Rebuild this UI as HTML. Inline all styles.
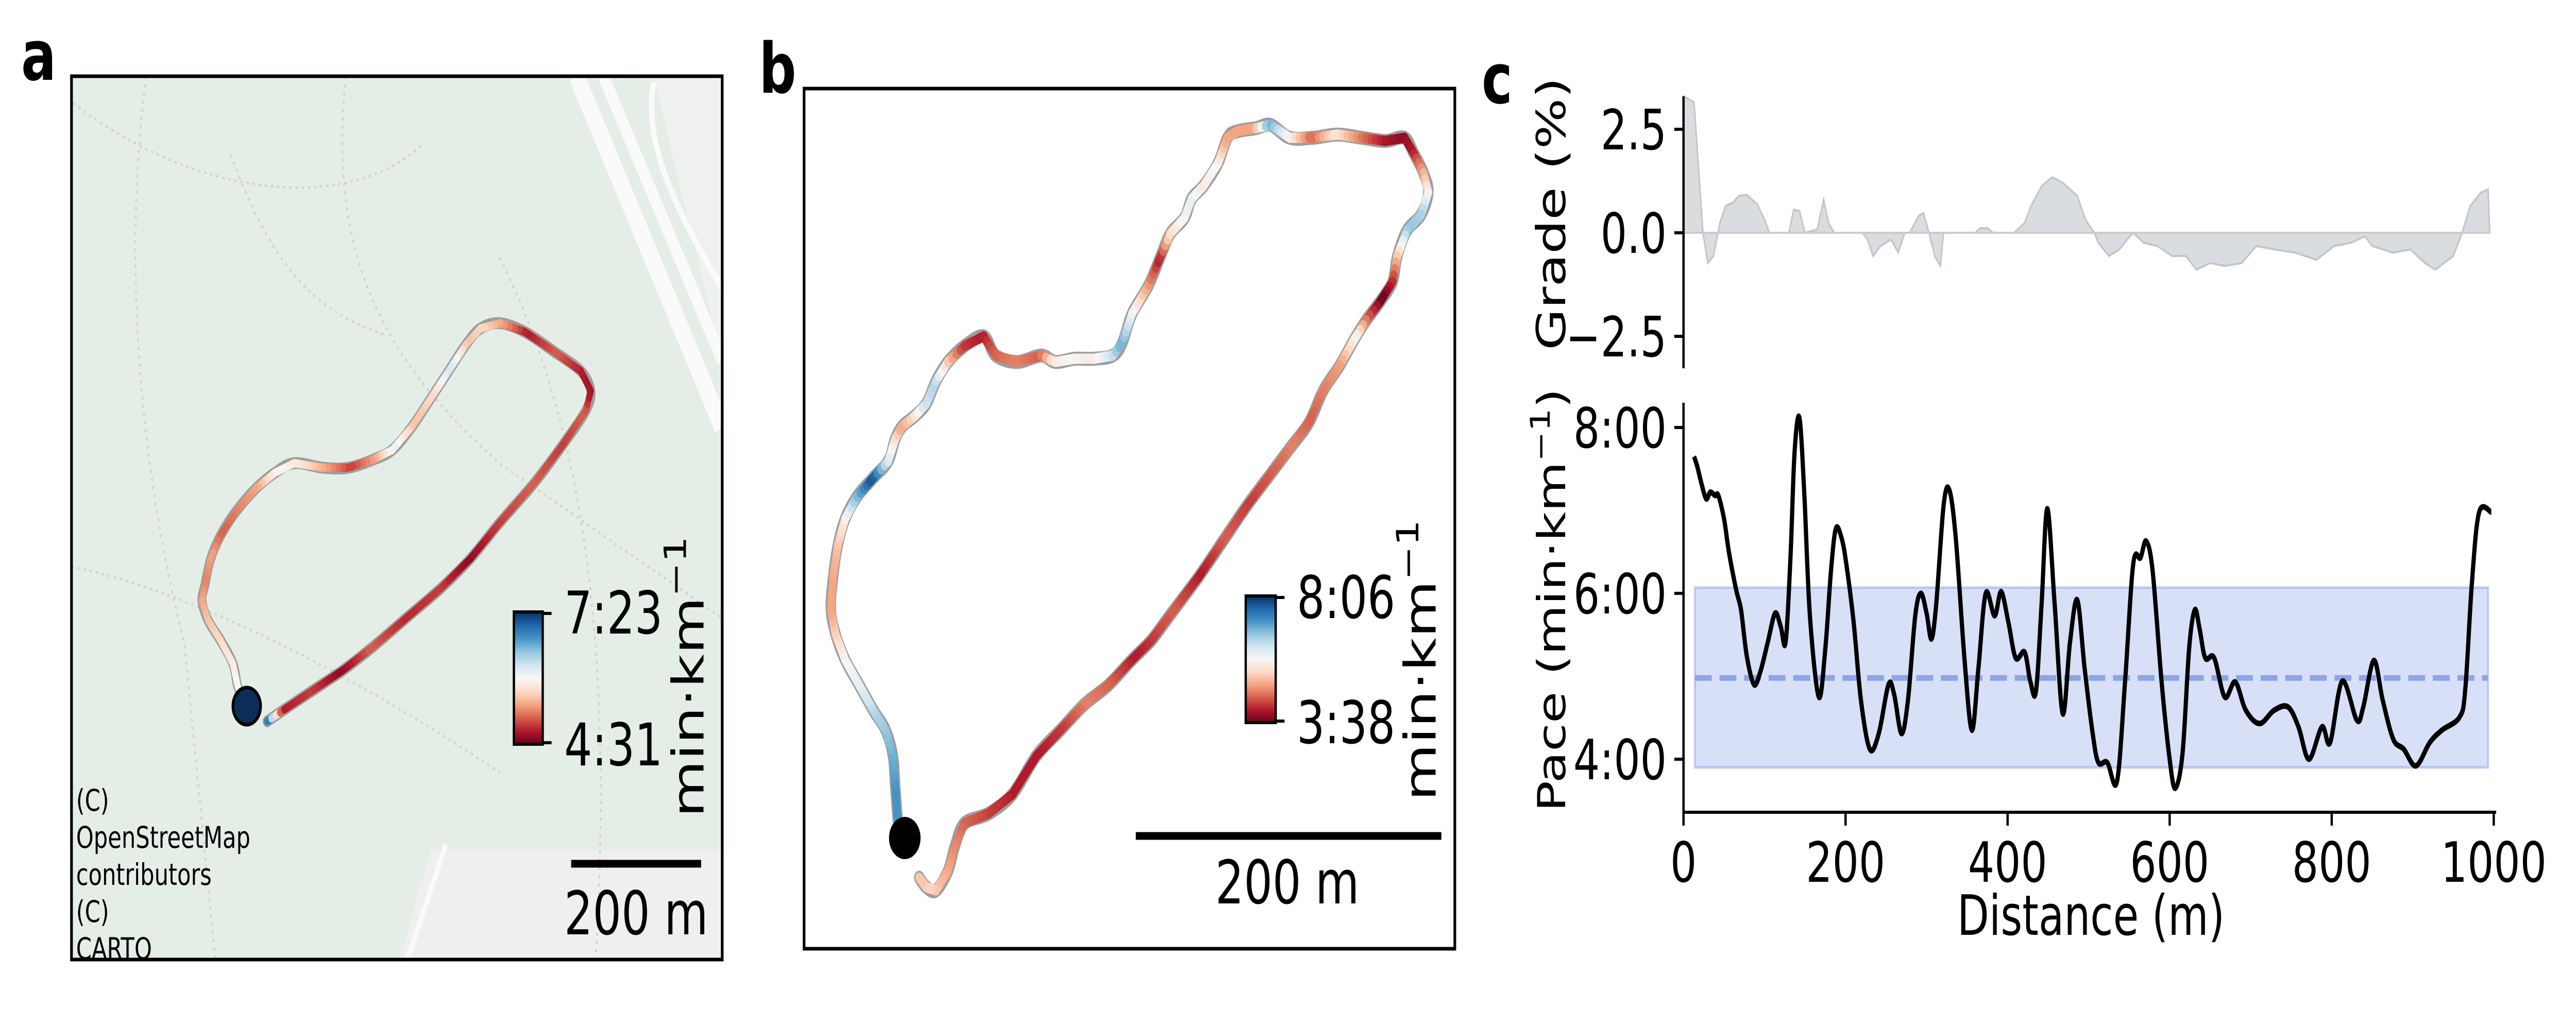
<!DOCTYPE html>
<html><head><meta charset="utf-8"><style>
html,body{margin:0;padding:0;background:#fff;overflow:hidden;}
svg{display:block;width:100vw;height:100vh;font-family:"DejaVu Sans","Liberation Sans",sans-serif;}
</style></head><body>
<svg id="fig" viewBox="0 0 6702 1959" preserveAspectRatio="none" xmlns="http://www.w3.org/2000/svg">
<!-- Panel a -->
<g>
<text x="55" y="155" font-size="135" font-weight="bold">a</text>
<defs><clipPath id="clipA"><rect x="186" y="148" width="1693" height="1715"/></clipPath></defs>
<g clip-path="url(#clipA)">
<rect x="186" y="148" width="1693" height="1715" fill="#e5ede7"/>
<polygon points="1700,148 1879,148 1879,700" fill="#eef1ee"/>
<path d="M1500,148 L1879,830" stroke="#fafafa" stroke-width="40" fill="none"/>
<path d="M1570,148 L1879,700" stroke="#fafafa" stroke-width="28" fill="none"/>
<path d="M1700,160 C1680,260 1720,360 1879,560" stroke="#fafafa" stroke-width="14" fill="none"/>
<path d="M1120,1650 L1879,1650 L1879,1863 L1040,1863 Z" fill="#eeefee"/>
<path d="M1160,1640 L1060,1863" stroke="#fafafa" stroke-width="12" fill="none"/>
<g stroke="#cfd6d1" stroke-width="5" stroke-dasharray="6 10" fill="none">
<path d="M190,200 C500,380 900,420 1100,280"/>
<path d="M380,148 C320,500 360,900 480,1250 L560,1863"/>
<path d="M900,148 C850,500 1000,700 1300,900 L1879,1200"/>
<path d="M186,1100 C500,1150 900,1300 1300,1500"/>
<path d="M1300,500 C1500,800 1600,1200 1550,1863"/>
<path d="M600,300 C700,500 800,600 1000,650"/>
</g>
</g>
<text x="198" y="1574" font-size="58"><tspan x="198">(C)</tspan><tspan x="198" dy="72">OpenStreetMap</tspan><tspan x="198" dy="72">contributors</tspan><tspan x="198" dy="72">(C)</tspan><tspan x="198" dy="72">CARTO</tspan></text>
<g id="routeA"></g>
<circle cx="642" cy="1371" r="36" fill="#0b2d5a" stroke="#000" stroke-width="7"/>
<defs><linearGradient id="rdbu" x1="0" y1="1" x2="0" y2="0">
<stop offset="0" stop-color="#67001f"/><stop offset="0.1" stop-color="#b2182b"/><stop offset="0.2" stop-color="#d6604d"/><stop offset="0.3" stop-color="#f4a582"/><stop offset="0.4" stop-color="#fddbc7"/><stop offset="0.5" stop-color="#f7f7f7"/><stop offset="0.6" stop-color="#d1e5f0"/><stop offset="0.7" stop-color="#92c5de"/><stop offset="0.8" stop-color="#4393c3"/><stop offset="0.9" stop-color="#2166ac"/><stop offset="1" stop-color="#053061"/>
</linearGradient></defs>
<rect x="1337" y="1188" width="75" height="257" fill="url(#rdbu)" stroke="#000" stroke-width="6"/>
<line x1="1412" y1="1191" x2="1435" y2="1191" stroke="#000" stroke-width="6"/>
<line x1="1412" y1="1442" x2="1435" y2="1442" stroke="#000" stroke-width="6"/>
<text x="1468" y="1230" font-size="114">7:23</text>
<text x="1468" y="1486" font-size="114">4:31</text>
<text transform="translate(1830,1314) rotate(-90)" text-anchor="middle" font-size="114">min·km<tspan dy="-45" font-size="80">−1</tspan></text>
<line x1="1486" y1="1677" x2="1824" y2="1677" stroke="#000" stroke-width="15"/>
<text x="1655" y="1814" text-anchor="middle" font-size="117">200 m</text>
<rect x="186" y="148" width="1693" height="1715" fill="none" stroke="#000" stroke-width="7"/>
</g>

<!-- Panel b -->
<g>
<text x="1975" y="180" font-size="135" font-weight="bold">b</text>
<rect x="2092" y="172" width="1693" height="1670" fill="#fff" stroke="#000" stroke-width="7"/>
<g id="routeB"></g>
<circle cx="2354" cy="1627" r="41" fill="#000"/>
<rect x="3241" y="1157" width="78" height="246" fill="url(#rdbu)" stroke="#000" stroke-width="6"/>
<line x1="3319" y1="1160" x2="3342" y2="1160" stroke="#000" stroke-width="6"/>
<line x1="3319" y1="1400" x2="3342" y2="1400" stroke="#000" stroke-width="6"/>
<text x="3374" y="1200" font-size="114">8:06</text>
<text x="3374" y="1443" font-size="114">3:38</text>
<text transform="translate(3735,1282) rotate(-90)" text-anchor="middle" font-size="114">min·km<tspan dy="-45" font-size="80">−1</tspan></text>
<line x1="2955" y1="1623" x2="3750" y2="1623" stroke="#000" stroke-width="15"/>
<text x="3349" y="1754" text-anchor="middle" font-size="117">200 m</text>
</g>

<!-- Panel c -->
<g id="panelC">
<text x="3855" y="200" font-size="135" font-weight="bold">c</text>
</g>
</svg>
<script>
// ---------- Panel c data ----------
const paceDist = [13,17,22,28,33,39,43,50,56,65,71,78,87,95,104,113,120,126,132,137,143,149,156,167,175,182,188,195,201,210,219,230,241,253,260,269,277,286,293,300,306,312,321,328,336,347,356,364,373,384,392,401,410,421,428,435,442,449,458,468,477,486,495,505,512,523,535,545,555,564,571,579,590,600,607,616,624,631,637,644,655,668,681,694,711,729,746,759,772,788,798,813,831,839,852,863,876,889,904,921,936,958,965,973,982,997];
const paceMin = [7.65,7.53,7.33,7.14,7.22,7.18,7.18,6.9,6.5,6.04,5.8,5.25,4.9,5.06,5.41,5.76,5.6,5.41,6.43,7.69,8.12,7.22,5.73,4.75,5.33,6.27,6.78,6.67,6.35,5.65,4.71,4.12,4.31,4.9,4.78,4.31,4.71,5.73,6.0,5.76,5.45,5.88,7.06,7.25,6.67,5.18,4.35,5.1,6.0,5.73,6.02,5.65,5.22,5.29,4.94,4.82,5.88,7.02,5.88,4.55,5.41,5.92,5.1,4.31,3.96,3.96,3.73,4.94,6.35,6.43,6.63,6.27,4.94,4.0,3.65,4.08,5.33,5.8,5.57,5.22,5.22,4.75,4.93,4.59,4.43,4.59,4.63,4.39,4.0,4.39,4.2,4.94,4.47,4.63,5.19,4.71,4.24,4.12,3.92,4.2,4.35,4.51,4.86,6.12,6.98,6.98];
const paceMean = 4.98;
const paceBand = [3.9, 6.07];
const paceBandRange = [14, 993];
const gradeDist = [0,13,24,30,37,45,52,61,68,78,91,100,106,130,136,143,150,165,173,179,186,221,227,234,243,256,265,273,279,290,296,303,310,317,321,360,366,375,382,408,421,429,442,455,468,486,496,507,512,525,538,551,555,568,585,603,620,633,650,668,689,707,729,755,781,803,824,841,850,876,897,915,928,950,961,971,984,993,995];
const gradePct = [3.3,3.15,0,-0.73,-0.56,0.24,0.65,0.73,0.89,0.92,0.69,0.32,0,0,0.56,0.53,0,0.08,0.8,0.24,0,0,-0.16,-0.56,-0.32,-0.16,-0.48,0,0,0.4,0.48,0,-0.56,-0.8,0,0,0.11,0.11,0,0,0.24,0.65,1.13,1.34,1.21,0.89,0.32,0,-0.24,-0.56,-0.4,-0.08,0,-0.24,-0.32,-0.56,-0.56,-0.89,-0.73,-0.8,-0.73,-0.32,-0.4,-0.48,-0.65,-0.32,-0.24,-0.08,-0.32,-0.48,-0.4,-0.73,-0.89,-0.56,0,0.65,0.97,1.05,0];
const xTicks = [0,200,400,600,800,1000];
const paceTicks = [4,6,8];
const paceTickLabels = ["4:00","6:00","8:00"];
const gradeTicks = [-2.5,0,2.5];
const gradeTickLabels = ["\u22122.5","0.0","2.5"];

// ---------- Map route data (pixel geometry + pace per vertex) ----------
const routeAVmin = 4.517, routeAVmax = 7.383;
const routeAPts = [[545,1098],[580,1080],[640,1050],[700,1020],[760,985],[830,940],[900,895],[960,850],[1020,795],[1090,735],[1150,675],[1195,625],[1205,595],[1185,565],[1130,535],[1070,505],[1020,492],[980,500],[950,525],[915,565],[880,605],[840,650],[800,685],[760,700],[710,712],[660,712],[600,705],[560,720],[520,745],[480,780],[450,815],[430,850],[418,890],[412,915],[425,945],[450,975],[475,1010],[485,1045],[500,1070]];
const routeAPace = [7.24,4.80,4.95,4.66,5.09,4.86,4.95,4.66,4.95,5.09,4.95,5.09,4.75,4.80,5.09,4.80,5.38,5.66,5.52,6.24,5.66,5.52,6.09,5.38,4.95,5.38,5.81,5.95,5.38,5.23,5.09,5.38,5.23,5.38,5.52,5.66,5.81,5.95,6.09];
const routeBVmin = 3.633, routeBVmax = 8.1;
const routeBPts = [[310,1280],[305,1230],[300,1180],[285,1140],[260,1110],[230,1070],[200,1030],[180,990],[170,950],[175,900],[185,850],[200,810],[225,775],[260,745],[290,720],[305,685],[320,665],[345,650],[370,630],[390,595],[415,565],[450,540],[490,525],[515,555],[560,565],[610,555],[640,565],[680,560],[720,560],[760,555],[780,535],[800,490],[835,445],[860,400],[880,365],[910,340],[925,310],[950,290],[980,255],[1000,215],[1020,205],[1060,200],[1090,195],[1130,215],[1180,215],[1230,210],[1280,215],[1330,220],[1370,215],[1390,240],[1410,270],[1420,300],[1405,335],[1375,360],[1355,400],[1345,440],[1320,470],[1290,500],[1265,530],[1235,570],[1200,610],[1170,660],[1130,700],[1090,740],[1040,790],[990,845],[940,900],[880,960],[840,1000],[800,1030],[750,1070],[700,1100],[650,1140],[600,1180],[550,1240],[500,1270],[450,1285],[430,1320],[415,1360],[390,1390],[370,1385],[355,1370]];
const routeBPace = [7.21,7.21,6.98,6.76,6.54,6.09,5.87,5.42,4.97,4.97,5.20,5.64,6.76,7.88,6.31,5.64,4.97,5.42,6.31,6.54,5.42,4.30,4.08,4.53,4.75,4.53,5.64,5.87,5.64,6.31,6.98,6.09,4.97,4.08,5.42,5.87,6.09,5.64,5.87,4.97,4.97,4.97,6.98,5.87,4.53,5.64,4.75,4.08,3.86,4.08,4.97,5.64,6.54,6.76,5.42,4.30,3.63,4.53,5.87,4.97,4.75,4.53,4.75,4.53,4.30,4.53,4.08,4.53,4.30,4.08,4.53,4.75,4.30,4.08,4.08,4.30,4.53,4.75,4.97,5.20,5.42,5.20];

const NS = "http://www.w3.org/2000/svg";
const stops = [[103,0,31],[178,24,43],[214,96,77],[244,165,130],[253,219,199],[247,247,247],[209,229,240],[146,197,222],[67,147,195],[33,102,172],[5,48,97]];
function rdbu(t){t=Math.max(0,Math.min(1,t));const f=t*10,i=Math.min(9,Math.floor(f)),u=f-i;const a=stops[i],b=stops[i+1];return "rgb("+a.map((v,k)=>Math.round(v+(b[k]-v)*u)).join(",")+")";}
function mk(tag,attrs,parent){const e=document.createElementNS(NS,tag);for(const k in attrs)e.setAttribute(k,attrs[k]);parent.appendChild(e);return e;}
function smoothPath(P){
  let d="M"+P[0][0]+","+P[0][1];
  for(let i=0;i<P.length-1;i++){
    const p0=P[Math.max(0,i-1)],p1=P[i],p2=P[i+1],p3=P[Math.min(P.length-1,i+2)];
    const c1=[p1[0]+(p2[0]-p0[0])/6,p1[1]+(p2[1]-p0[1])/6];
    const c2=[p2[0]-(p3[0]-p1[0])/6,p2[1]-(p3[1]-p1[1])/6];
    d+=" C"+c1[0]+","+c1[1]+" "+c2[0]+","+c2[1]+" "+p2[0]+","+p2[1];
  }
  return d;
}

function drawRoute(gid, pts, pace, vmin, vmax, sx, ox, oy, w){
  const g=document.getElementById(gid);
  const P=pts.map(p=>[ox+p[0]*sx, oy+p[1]*sx]);
  const under=mk("path",{d:smoothPath(P),fill:"none",stroke:"#9e9e9e","stroke-width":w+7,"stroke-linejoin":"round","stroke-linecap":"round"},g);
  
  
  for(let i=0;i<P.length-1;i++){
    const n=Math.max(1,Math.round(Math.hypot(P[i+1][0]-P[i][0],P[i+1][1]-P[i][1])/12));
    for(let k=0;k<n;k++){
      const u0=k/n,u1=(k+1)/n;
      const v=pace[i]+(pace[i+1]-pace[i])*(u0+u1)/2;
      const s=mk("line",{x1:P[i][0]+(P[i+1][0]-P[i][0])*u0,y1:P[i][1]+(P[i+1][1]-P[i][1])*u0,x2:P[i][0]+(P[i+1][0]-P[i][0])*u1,y2:P[i][1]+(P[i+1][1]-P[i][1])*u1,stroke:rdbu((v-vmin)/(vmax-vmin)),"stroke-width":w,"stroke-linecap":"round"},g);
      
      
    }
  }
}
drawRoute("routeA",routeAPts,routeAPace,routeAVmin,routeAVmax,1/0.784,0,0,16);
drawRoute("routeB",routeBPts,routeBPace,routeBVmin,routeBVmax,1/0.804,1950,0,20);

// ---------- Panel c ----------
const C=document.getElementById("panelC");
const X0=4380, XS=2.108;
const xS=d=>X0+d*XS;
const pY=p=>1474-(p-4)*161;
const gY=g=>452-g*80.4;
let gp="M"+xS(gradeDist[0])+","+gY(0);
gradeDist.forEach((d,i)=>{gp+=" L"+xS(d)+","+gY(gradePct[i]);});
gp+=" L"+xS(gradeDist[gradeDist.length-1])+","+gY(0)+" Z";
const ga=mk("path",{d:gp,fill:"#dadde0",stroke:"#c2c6ca","stroke-width":4},C);


const gz=mk("line",{x1:xS(gradeDist[0]),y1:gY(0),x2:xS(gradeDist[gradeDist.length-1]),y2:gY(0),stroke:"#c8ccd0","stroke-width":4},C);


const gAx=mk("line",{x1:X0,y1:187,x2:X0,y2:715,stroke:"#000","stroke-width":6},C);


gradeTicks.forEach((t,i)=>{
  const y=gY(t);
  const tk=mk("line",{x1:X0-24,y1:y,x2:X0,y2:y,stroke:"#000","stroke-width":6},C);
  
  
  const tl=mk("text",{x:X0-44,y:y+39,"text-anchor":"end","font-size":108},C);
  tl.textContent=gradeTickLabels[i];
  
  
});
const gt=mk("text",{transform:"translate(4072,415) rotate(-90)","text-anchor":"middle","font-size":104},C);
gt.textContent="Grade (%)";


const band=mk("rect",{x:xS(paceBandRange[0]),y:pY(paceBand[1]),width:xS(paceBandRange[1])-xS(paceBandRange[0]),height:pY(paceBand[0])-pY(paceBand[1]),fill:"rgba(100,130,225,0.25)",stroke:"rgba(100,130,225,0.35)","stroke-width":5},C);


const mean=mk("line",{x1:xS(paceBandRange[0]),y1:pY(paceMean),x2:xS(paceBandRange[1]),y2:pY(paceMean),stroke:"#8ea4e6","stroke-width":11,"stroke-dasharray":"44 20"},C);


const pl=mk("path",{d:smoothPath(paceDist.map((d,i)=>[xS(d),pY(paceMin[i])])),fill:"none",stroke:"#000","stroke-width":11,"stroke-linejoin":"round"},C);


const pAx=mk("line",{x1:X0,y1:782,x2:X0,y2:1580,stroke:"#000","stroke-width":6},C);


const xAx=mk("line",{x1:X0-3,y1:1577,x2:xS(1003),y2:1577,stroke:"#000","stroke-width":6},C);


paceTicks.forEach((t,i)=>{
  const y=pY(t);
  const tk=mk("line",{x1:X0-24,y1:y,x2:X0,y2:y,stroke:"#000","stroke-width":6},C);
  
  
  const tl=mk("text",{x:X0-44,y:y+39,"text-anchor":"end","font-size":108},C);
  tl.textContent=paceTickLabels[i];
  
  
});
xTicks.forEach(t=>{
  const x=xS(t);
  const tk=mk("line",{x1:x,y1:1577,x2:x,y2:1603,stroke:"#000","stroke-width":6},C);
  
  
  const tl=mk("text",{x:x,y:1712,"text-anchor":"middle","font-size":108},C);
  tl.textContent=String(t);
  
  
});
const pt=mk("text",{transform:"translate(4072,1165) rotate(-90)","text-anchor":"middle","font-size":100},C);
pt.innerHTML='Pace (min·km<tspan dy="-40" font-size="70">−1</tspan><tspan dy="40">)</tspan>';


const xt=mk("text",{x:5440,y:1815,"text-anchor":"middle","font-size":108},C);
xt.textContent="Distance (m)";


</script>
</body></html>
